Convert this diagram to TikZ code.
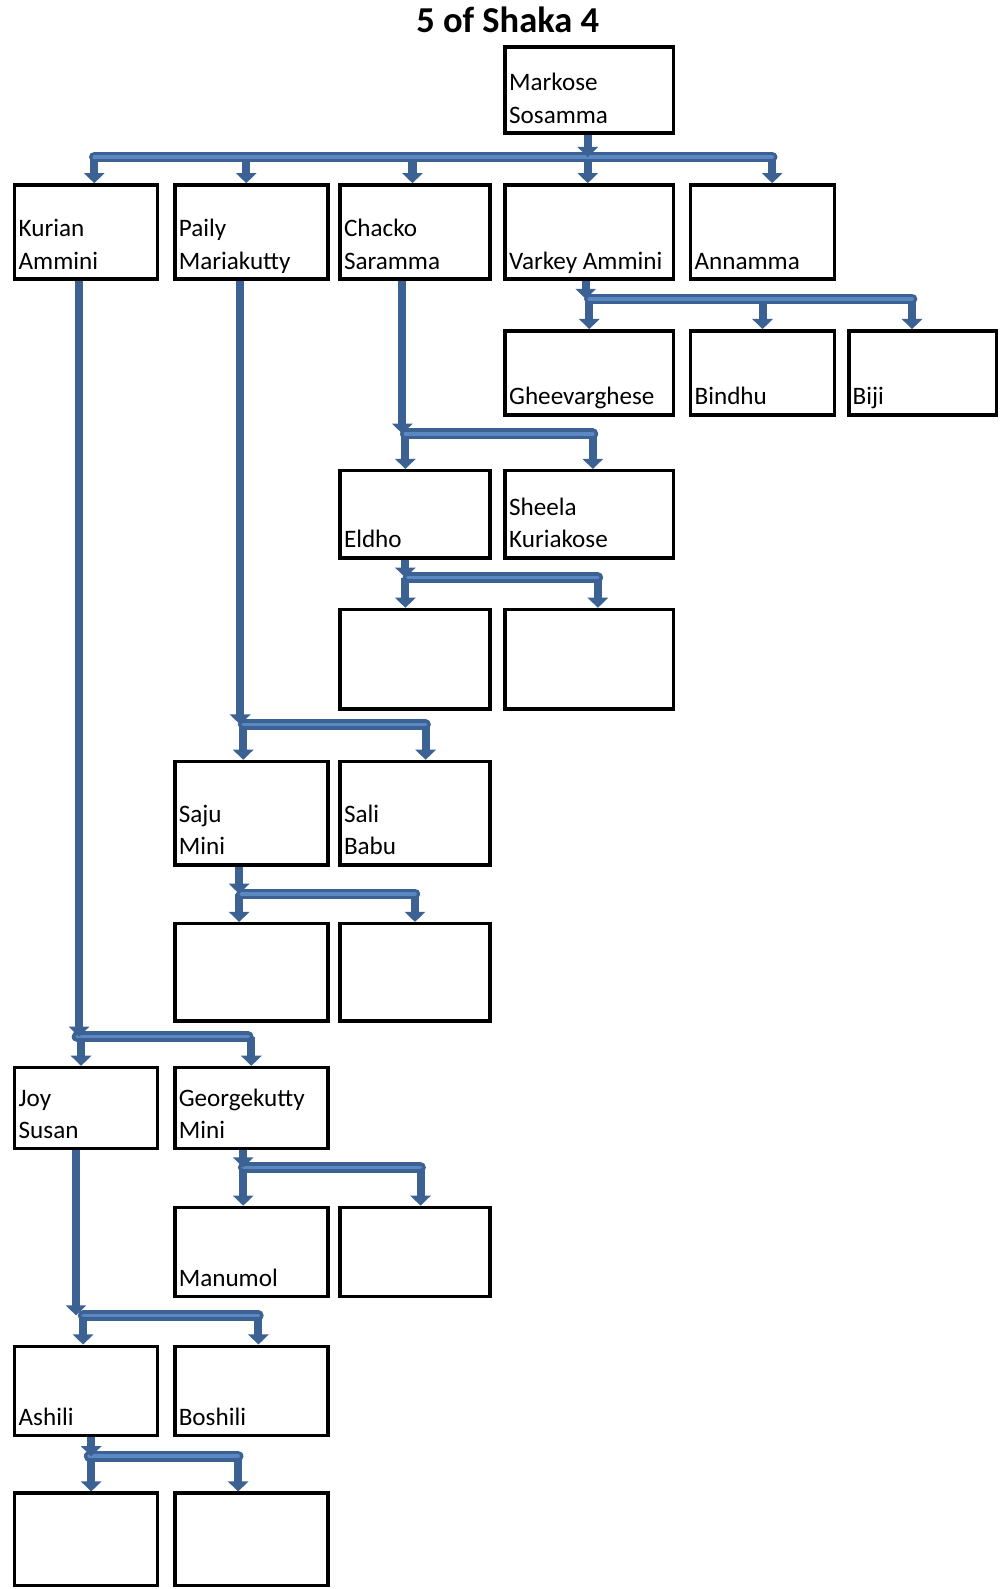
\documentclass[tikz,border=0pt]{standalone}
\usepackage{fontspec}
\setmainfont{Carlito}
\usetikzlibrary{arrows.meta}
\definecolor{kinblue}{HTML}{3C6294}
\definecolor{kinshine}{HTML}{5B87C2}
\newcommand{\kinfont}{\fontsize{24.8}{32}\selectfont}
\newcommand{\headfont}{\fontsize{36}{42}\selectfont\bfseries}
\tikzset{
  kin/.style 2 args={
    rectangle,
    minimum width=#1,
    minimum height=#2,
    inner sep=0pt,
    line width=3.5pt,
    draw=black
  },
  who/.style={
    anchor=south west,
    align=left,
    inner sep=0pt,
    font=\kinfont,
    xshift=5.5pt,
    yshift=2pt
  },
  stem/.style={line width=8pt, kinblue, -{Triangle[width=20pt,length=10pt]}},
  drop/.style={line width=8pt, kinblue, -{Triangle[width=20pt,length=10pt]}},
  bus/.style={line width=3.5pt, draw=kinblue, double=kinshine, double distance=3.5pt, line cap=round}
}

\begin{document}
\begin{tikzpicture}[x=1pt, y=-1pt]
    \useasboundingbox (0,0) rectangle (987,1568);
    \node (title) [font=\headfont] at (501,20) {5 of Shaka 4};

    % generation 1
    \node (markose) [kin={166pt}{85pt}, label={[who]south west:Markose\\Sosamma\strut}] at (581.5,89) {};

    % generation 2
    \node (kurian) [kin={141pt}{93pt}, label={[who]south west:Kurian\\Ammini\strut}] at (85,229) {};
    \node (paily) [kin={151pt}{93pt}, label={[who]south west:Paily\\Mariakutty\strut}] at (248,229) {};
    \node (chacko) [kin={148pt}{93pt}, label={[who]south west:Chacko\\Saramma\strut}] at (409.5,229) {};
    \node (varkey) [kin={166pt}{93pt}, label={[who]south west:Varkey Ammini\strut}] at (581.5,229) {};
    \node (annamma) [kin={142pt}{93pt}, label={[who]south west:Annamma\strut}] at (752.5,229) {};

    % children of Varkey
    \node (gheev) [kin={166pt}{83pt}, label={[who]south west:Gheevarghese\strut}] at (581.5,368) {};
    \node (bindhu) [kin={142pt}{83pt}, label={[who]south west:Bindhu\strut}] at (752.5,368) {};
    \node (biji) [kin={146pt}{83pt}, label={[who]south west:Biji\strut}] at (910.5,368) {};

    % children of Chacko
    \node (eldho) [kin={148pt}{86pt}, label={[who]south west:Eldho\strut}] at (409.5,507.5) {};
    \node (sheela) [kin={166pt}{86pt}, label={[who]south west:Sheela\\Kuriakose\strut}] at (581.5,507.5) {};
    \node (eldhoa) [kin={148pt}{98pt}] at (409.5,650.5) {};
    \node (eldhob) [kin={166pt}{98pt}] at (581.5,650.5) {};

    % children of Paily
    \node (saju) [kin={151pt}{102pt}, label={[who]south west:Saju\\Mini\strut}] at (248,802.5) {};
    \node (sali) [kin={148pt}{102pt}, label={[who]south west:Sali\\Babu\strut}] at (409.5,802.5) {};
    \node (sajua) [kin={151pt}{96pt}] at (248,959.5) {};
    \node (sajub) [kin={148pt}{96pt}] at (409.5,959.5) {};

    % children of Kurian
    \node (joy) [kin={141pt}{80pt}, label={[who]south west:Joy\\Susan\strut}] at (85,1093.5) {};
    \node (george) [kin={151pt}{80pt}, label={[who]south west:Georgekutty\\Mini\strut}] at (248,1093.5) {};
    \node (manumol) [kin={151pt}{88pt}, label={[who]south west:Manumol\strut}] at (248,1235.5) {};
    \node (georgeb) [kin={148pt}{88pt}] at (409.5,1235.5) {};
    \node (ashili) [kin={141pt}{88pt}, label={[who]south west:Ashili\strut}] at (85,1372.5) {};
    \node (boshili) [kin={151pt}{88pt}, label={[who]south west:Boshili\strut}] at (248,1372.5) {};
    \node (ashilia) [kin={141pt}{91pt}] at (85,1519) {};
    \node (ashilib) [kin={151pt}{91pt}] at (248,1519) {};

    % bus levels
    \coordinate (bus0) at (0,155);
    \coordinate (bus1) at (0,295);
    \coordinate (bus2) at (0,428);
    \coordinate (bus3) at (0,570);
    \coordinate (bus4) at (0,715);
    \coordinate (bus5) at (0,882);
    \coordinate (bus6) at (0,1023);
    \coordinate (bus7) at (0,1152);
    \coordinate (bus8) at (0,1298);
    \coordinate (bus9) at (0,1437);

    % Markose
    \draw[drop] ([xshift=8pt]kurian.north |- bus0) -- ([xshift=8pt]kurian.north);
    \draw[drop] ([xshift=-5pt]paily.north |- bus0) -- ([xshift=-5pt]paily.north);
    \draw[drop] ([xshift=-2.5pt]chacko.north |- bus0) -- ([xshift=-2.5pt]chacko.north);
    \draw[drop] ([xshift=-1.5pt]varkey.north |- bus0) -- ([xshift=-1.5pt]varkey.north);
    \draw[drop] ([xshift=9.5pt]annamma.north |- bus0) -- ([xshift=9.5pt]annamma.north);
    \draw[bus] ([xshift=8pt]kurian.north |- bus0) -- ([xshift=9.5pt]annamma.north |- bus0);
    \draw[stem] ([xshift=-1.5pt]markose.south) -- ([xshift=-1.5pt]markose.south |- bus0);

    % Varkey
    \draw[drop] (gheev.north |- bus1) -- (gheev.north);
    \draw[drop] (bindhu.north |- bus1) -- (bindhu.north);
    \draw[drop] ([xshift=-10.5pt]biji.north |- bus1) -- ([xshift=-10.5pt]biji.north);
    \draw[bus] (gheev.north |- bus1) -- ([xshift=-10.5pt]biji.north |- bus1);
    \draw[stem] ([xshift=-3.5pt]varkey.south) -- ([xshift=-3.5pt]varkey.south |- bus1);

    % Chacko
    \draw[drop] ([xshift=-9.5pt]eldho.north |- bus2) -- ([xshift=-9.5pt]eldho.north);
    \draw[drop] ([xshift=3.5pt]sheela.north |- bus2) -- ([xshift=3.5pt]sheela.north);
    \draw[bus] ([xshift=-9.5pt]eldho.north |- bus2) -- ([xshift=3.5pt]sheela.north |- bus2);
    \draw[stem] ([xshift=-12.5pt]chacko.south) -- ([xshift=-12.5pt]chacko.south |- bus2);

    % Eldho
    \draw[drop] ([xshift=-9.5pt]eldhoa.north |- bus3) -- ([xshift=-9.5pt]eldhoa.north);
    \draw[drop] ([xshift=8.5pt]eldhob.north |- bus3) -- ([xshift=8.5pt]eldhob.north);
    \draw[bus] ([xshift=-7pt]eldhoa.north |- bus3) -- ([xshift=8.5pt]eldhob.north |- bus3);
    \draw[stem] ([xshift=-9.5pt]eldho.south) -- ([xshift=-9.5pt]eldho.south |- bus3);

    % Paily
    \draw[drop] ([xshift=-8pt]saju.north |- bus4) -- ([xshift=-8pt]saju.north);
    \draw[drop] ([xshift=10.5pt]sali.north |- bus4) -- ([xshift=10.5pt]sali.north);
    \draw[bus] ([xshift=-8pt]saju.north |- bus4) -- ([xshift=10.5pt]sali.north |- bus4);
    \draw[stem] ([xshift=-11pt]paily.south) -- ([xshift=-11pt]paily.south |- bus4);

    % Saju
    \draw[drop] ([xshift=-12pt]sajua.north |- bus5) -- ([xshift=-12pt]sajua.north);
    \draw[drop] (sajub.north |- bus5) -- (sajub.north);
    \draw[bus] ([xshift=-10pt]sajua.north |- bus5) -- (sajub.north |- bus5);
    \draw[stem] ([xshift=-12pt]saju.south) -- ([xshift=-12pt]saju.south |- bus5);

    % Kurian
    \draw[drop] ([xshift=-5pt]joy.north |- bus6) -- ([xshift=-5pt]joy.north);
    \draw[drop] (george.north |- bus6) -- (george.north);
    \draw[bus] ([xshift=-9pt]joy.north |- bus6) -- ([xshift=-3pt]george.north |- bus6);
    \draw[stem] ([xshift=-7pt]kurian.south) -- ([xshift=-7pt]kurian.south |- bus6);

    % Georgekutty
    \draw[drop] ([xshift=-8pt]manumol.north |- bus7) -- ([xshift=-8pt]manumol.north);
    \draw[drop] ([xshift=5.5pt]georgeb.north |- bus7) -- ([xshift=5.5pt]georgeb.north);
    \draw[bus] ([xshift=-8pt]manumol.north |- bus7) -- ([xshift=5.5pt]georgeb.north |- bus7);
    \draw[stem] ([xshift=-8pt]george.south) -- ([xshift=-8pt]george.south |- bus7);

    % Joy
    \draw[drop] ([xshift=-3pt]ashili.north |- bus8) -- ([xshift=-3pt]ashili.north);
    \draw[drop] ([xshift=7pt]boshili.north |- bus8) -- ([xshift=7pt]boshili.north);
    \draw[bus] ([xshift=-3pt]ashili.north |- bus8) -- ([xshift=7pt]boshili.north |- bus8);
    \draw[stem] ([xshift=-10pt]joy.south) -- ([xshift=-10pt]joy.south |- bus8);

    % Ashili
    \draw[drop] ([xshift=5pt]ashilia.north |- bus9) -- ([xshift=5pt]ashilia.north);
    \draw[drop] ([xshift=-13pt]ashilib.north |- bus9) -- ([xshift=-13pt]ashilib.north);
    \draw[bus] ([xshift=3pt]ashilia.north |- bus9) -- ([xshift=-13pt]ashilib.north |- bus9);
    \draw[stem] ([xshift=5pt]ashili.south) -- ([xshift=5pt]ashili.south |- bus9);
\end{tikzpicture}
\end{document}
